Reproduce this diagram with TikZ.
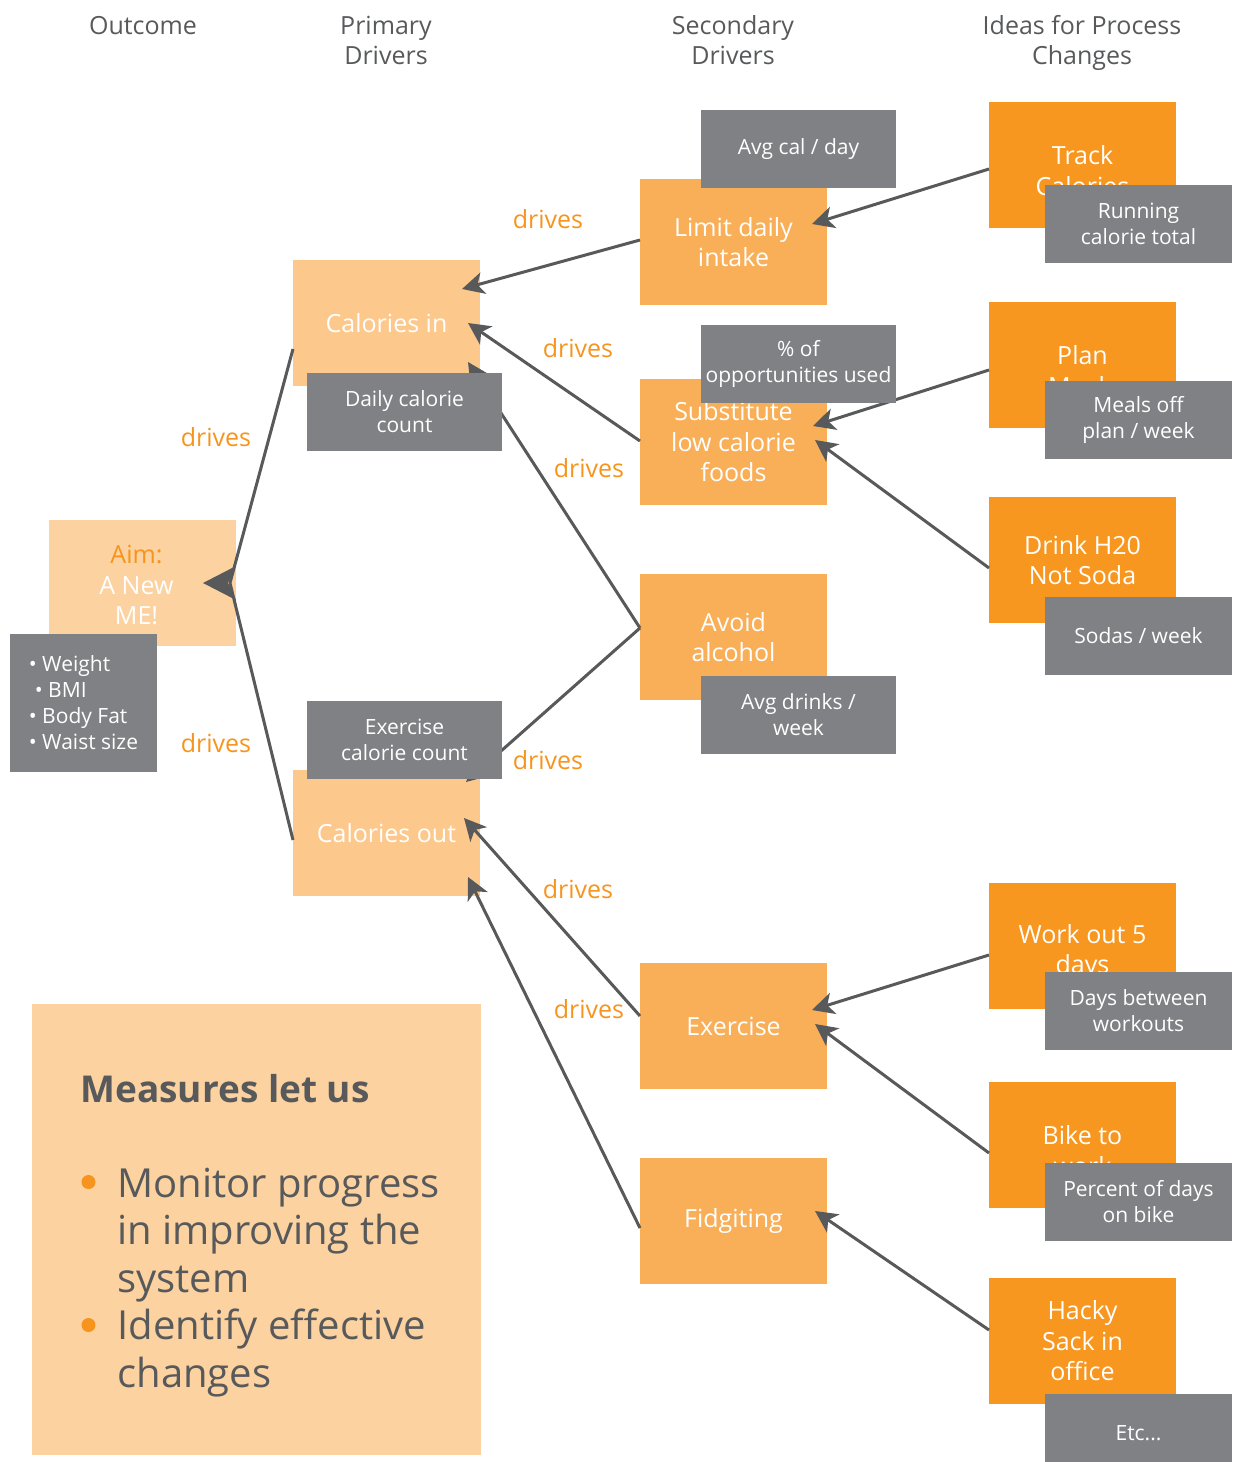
\documentclass[tikz,border=0pt]{standalone}
\usepackage{fontspec}
\setmainfont{Open Sans}
\usetikzlibrary{arrows.meta}
\definecolor{peach}{HTML}{FBD2A0}
\definecolor{prim}{HTML}{FDC88B}
\definecolor{sec}{HTML}{F9AF57}
\definecolor{idea}{HTML}{F7971F}
\definecolor{grayb}{HTML}{808184}
\definecolor{dark}{HTML}{58595B}
\definecolor{orng}{HTML}{F7941D}
\tikzset{
 box/.style={inner sep=0pt, outer sep=0pt, align=center, text=white, font=\fontsize{12.5pt}{15.25pt}\selectfont},
 bigbox/.style={box, minimum width=93.5pt, minimum height=63pt},
 primbox/.style={bigbox, fill=prim},
 secbox/.style={bigbox, fill=sec},
 ideabox/.style={bigbox, fill=idea},
 measbox/.style={box, fill=grayb, minimum height=39pt, font=\fontsize{10.5pt}{13pt}\selectfont},
 wmeas/.style={measbox, minimum width=97.5pt},
 nmeas/.style={measbox, minimum width=93.5pt},
 hdr/.style={align=center, text=dark, font=\fontsize{12.5pt}{15pt}\selectfont},
 lbl/.style={text=orng, font=\fontsize{12.5pt}{15pt}\selectfont},
 conn/.style={draw=dark, line width=1.5pt, -{Stealth[length=11pt,width=11pt,inset=3pt]}},
 bigtxt/.style={anchor=base west, inner sep=0pt, text=dark, font=\fontsize{20pt}{24pt}\selectfont},
 dot/.style={circle, fill=orng, inner sep=0pt, minimum size=7pt},
}
\begin{document}
\begin{tikzpicture}[x=0.5pt, y=-0.5pt]
\useasboundingbox (0,0) rectangle (1232,1462);
\clip (0,0) rectangle (1232,1462);

% headers
\node[hdr] (h1) at (143,26) {Outcome};
\node[hdr] (h2) at (386,40) {Primary\\Drivers};
\node[hdr] (h3) at (733,40) {Secondary\\Drivers};
\node[hdr] (h4) at (1082,43) {Ideas for Process\\Changes};

% outcome
\node[bigbox, fill=peach] (aim) at (142.5,583) {\raisebox{-2.5pt}[\height][\depth]{\begin{tabular}{@{}c@{\hspace{6pt}}}\textcolor{orng}{Aim:}\\A New\\ME!\end{tabular}}};

% primary
\node[primbox] (ci) at (386.5,323) {Calories in};
\node[primbox] (co) at (386.5,833) {Calories out};

% secondary
\node[secbox] (limit) at (733.5,242) {Limit daily\\intake};
\node[secbox] (subst) at (733.5,442) {Substitute\\low calorie\\foods};
\node[secbox] (avoid) at (733.5,637) {Avoid\\alcohol};
\node[secbox] (exer) at (733.5,1026) {Exercise};
\node[secbox] (fidg) at (733.5,1221) {Fidgiting};

% ideas
\node[ideabox] (track) at (1082.5,165) {\rule{0pt}{3pt}\\[-3pt]Track\\Calories};
\node[ideabox] (plan) at (1082.5,365) {\rule{0pt}{3pt}\\[-3pt]Plan\\Meals};
\node[ideabox] (drink) at (1082.5,560) {Drink H20\\Not Soda};
\node[ideabox] (work) at (1082.5,946) {\rule{0pt}{3pt}\\[-3pt]Work out 5\\days};
\node[ideabox] (bike) at (1082.5,1145) {\rule{0pt}{3pt}\\[-3pt]Bike to\\work};
\node[ideabox] (hacky) at (1082.5,1341) {Hacky\\Sack in\\office};

% measures box
\node[fill=peach, inner sep=0pt, outer sep=0pt, minimum width=224.5pt, minimum height=225.5pt] (mbox) at (256.5,1229.5) {};
\node[bigtxt, font=\fontsize{18.5pt}{24pt}\selectfont\bfseries] (mt) at (80,1102) {Measures let us};
\node[dot] (b1) at (88.5,1182) {};
\node[dot] (b2) at (88.5,1325) {};
\node[bigtxt] (l1) at (117,1197) {Monitor progress};
\node[bigtxt] (l2) at (117,1244.5) {in improving the};
\node[bigtxt] (l3) at (117,1292) {system};
\node[bigtxt] (l4) at (117,1339.5) {Identify effective};
\node[bigtxt] (l5) at (117,1387) {changes};

% connectors
\draw[dark, line width=1.5pt, line join=round] ([yshift=-13pt]ci.west) -- ([xshift=-3pt]aim.east) -- ([yshift=-3.5pt]co.west);
\fill[dark] ([xshift=-16.5pt]aim.east) -- ++(16.5pt,8.5pt) -- ++(-4pt,-8.5pt) -- ++(4pt,-8.5pt) -- cycle;

\draw[conn] ([yshift=1pt]limit.west) -- ([xshift=-9pt,yshift=17pt]ci.east);
\draw[conn] ([yshift=0.5pt]subst.west) -- ([xshift=-6pt]ci.east);
\draw[conn] ([yshift=4.5pt]avoid.west) -- ([xshift=-6pt,yshift=-19.5pt]ci.east);
\draw[conn] ([yshift=4.5pt]avoid.west) -- ([xshift=-7pt,yshift=25.5pt]co.east);
\draw[conn] ([yshift=5pt]exer.west) -- ([xshift=-8pt,yshift=7.5pt]co.east);
\draw[conn] ([yshift=-3.5pt]fidg.west) -- ([xshift=-6pt,yshift=-22pt]co.east);

\draw[conn] ([yshift=-2pt]track.west) -- ([xshift=-7.5pt,yshift=9pt]limit.east);
\draw[conn] ([yshift=-2.5pt]plan.west) -- ([xshift=-7pt,yshift=8pt]subst.east);
\draw[conn] ([yshift=-4pt]drink.west) -- ([xshift=-6pt,yshift=1pt]subst.east);
\draw[conn] ([yshift=-4.5pt]work.west) -- ([xshift=-7.5pt,yshift=8pt]exer.east);
\draw[conn] ([yshift=-4pt]bike.west) -- ([xshift=-6pt,yshift=1pt]exer.east);
\draw[conn] ([yshift=5.5pt]hacky.west) -- ([xshift=-6pt,yshift=5pt]fidg.east);

% drives labels
\node[lbl] (d1) at (548,219) {drives};
\node[lbl] (d2) at (578,348) {drives};
\node[lbl] (d3) at (589,468) {drives};
\node[lbl] (d4) at (216,437) {drives};
\node[lbl] (d5) at (216,743) {drives};
\node[lbl] (d6) at (548,760) {drives};
\node[lbl] (d7) at (578,889) {drives};
\node[lbl] (d8) at (589,1009) {drives};

% measures (gray)
\node[measbox, minimum width=73.5pt, minimum height=69pt, align=left] (meas) at (83.5,703) {• Weight\\\hspace*{3pt}• BMI\\• Body Fat\\• Waist size};
\node[wmeas] (dcc) at (404.5,412) {Daily calorie\\count};
\node[wmeas] (ecc) at (404.5,740) {Exercise\\calorie count};
\node[wmeas] (avgcal) at (798.5,149) {Avg cal / day};
\node[wmeas] (pct) at (798.5,364) {\% of\\opportunities used};
\node[wmeas] (avgdr) at (798.5,715) {Avg drinks /\\week};
\node[nmeas] (runcal) at (1138.5,224) {Running\\calorie total};
\node[nmeas] (mealsoff) at (1138.5,420) {Meals off\\plan / week};
\node[nmeas] (sodas) at (1138.5,636) {Sodas / week};
\node[nmeas] (days) at (1138.5,1011) {Days between\\workouts};
\node[nmeas] (pctbike) at (1138.5,1201.5) {Percent of days\\on bike};
\node[nmeas] (etc) at (1138.5,1433) {Etc...};
\end{tikzpicture}
\end{document}
